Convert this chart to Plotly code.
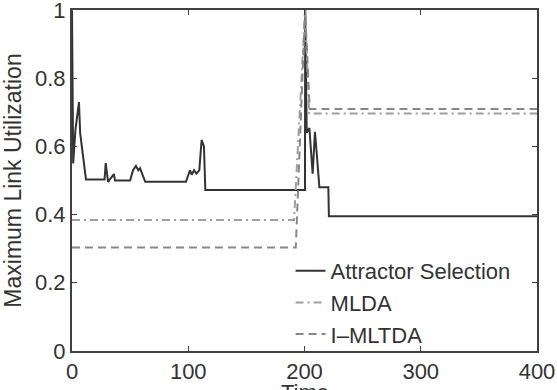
import plotly.graph_objects as go

# Attractor Selection
t_attr = [0, 1, 3, 6, 7, 9, 12, 28, 29, 31, 36, 37, 38, 50, 52.5, 55, 57, 58.5, 63,
          98, 101.5, 103, 105, 107, 109.5, 111.5, 113.5, 114.7, 200.4, 200.6, 201.9,
          204.2, 207, 209, 210.5, 212.8, 220.5, 221, 400]
v_attr = [1.0, 0.55, 0.65, 0.73, 0.64, 0.58, 0.503, 0.503, 0.551, 0.496, 0.519, 0.50,
          0.50, 0.50, 0.53, 0.543, 0.53, 0.536, 0.496,
          0.496, 0.53, 0.517, 0.53, 0.52, 0.53, 0.619, 0.60, 0.472, 0.472, 1.0, 0.64,
          0.654, 0.52, 0.643, 0.58, 0.48, 0.48, 0.395, 0.395]

# MLDA
t_mlda = [0, 191, 200.5, 204, 400]
v_mlda = [0.384, 0.384, 1.0, 0.697, 0.697]

# I-MLTDA
t_imltda = [0, 192.5, 200.5, 204.5, 400]
v_imltda = [0.303, 0.303, 1.0, 0.71, 0.71]

x_ticks = [0, 100, 200, 300, 400]
y_ticks = [0, 0.2, 0.4, 0.6, 0.8, 1]
y_tick_text = ["0", "0.2", "0.4", "0.6", "0.8", "1"]

FONT = "Liberation Sans, Arial, Helvetica, sans-serif"
AX = "#404040"
TXT = "#333333"

fig = go.Figure()
fig.add_trace(go.Scatter(x=t_attr, y=v_attr, mode="lines", name="Attractor Selection",
                         line=dict(color="#333333", width=2)))
fig.add_trace(go.Scatter(x=t_mlda, y=v_mlda, mode="lines", name="MLDA",
                         line=dict(color="#a0a0a0", width=2, dash="8px,4px,2px,4px")))
fig.add_trace(go.Scatter(x=t_imltda, y=v_imltda, mode="lines", name="I–MLTDA",
                         line=dict(color="#888888", width=2, dash="8px,5px")))

axis_common = dict(showgrid=False, zeroline=False, showline=True, linecolor=AX,
                   linewidth=2, mirror="ticks", ticks="inside", ticklen=5,
                   tickcolor=AX, tickwidth=1, automargin=False,
                   ticklabeloverflow="allow",
                   tickfont=dict(family=FONT, size=22, color=TXT))

fig.update_xaxes(range=[0, 400], tickvals=x_ticks, **axis_common)
fig.update_yaxes(range=[-0.0005, 1.0005], tickvals=y_ticks, ticktext=y_tick_text,
                 **axis_common,
                 title=dict(text="Maximum Link Utilization",
                            font=dict(family=FONT, size=23, color=TXT)))

fig.add_annotation(text="Time", xref="paper", yref="paper", x=0.5, y=-0.078,
                   xanchor="center", yanchor="top", showarrow=False,
                   font=dict(family=FONT, size=22, color=TXT))

fig.update_layout(
    width=557, height=390,
    margin=dict(l=72, r=20, t=10, b=39),
    paper_bgcolor="white", plot_bgcolor="white",
    font=dict(family=FONT, size=22, color=TXT),
    showlegend=True,
    legend=dict(x=0.47, y=0.296, xanchor="left", yanchor="top",
                bgcolor="rgba(0,0,0,0)", borderwidth=0,
                font=dict(family=FONT, size=22, color=TXT),
                tracegroupgap=0, itemwidth=30),
)

fig.write_html("out.html")
